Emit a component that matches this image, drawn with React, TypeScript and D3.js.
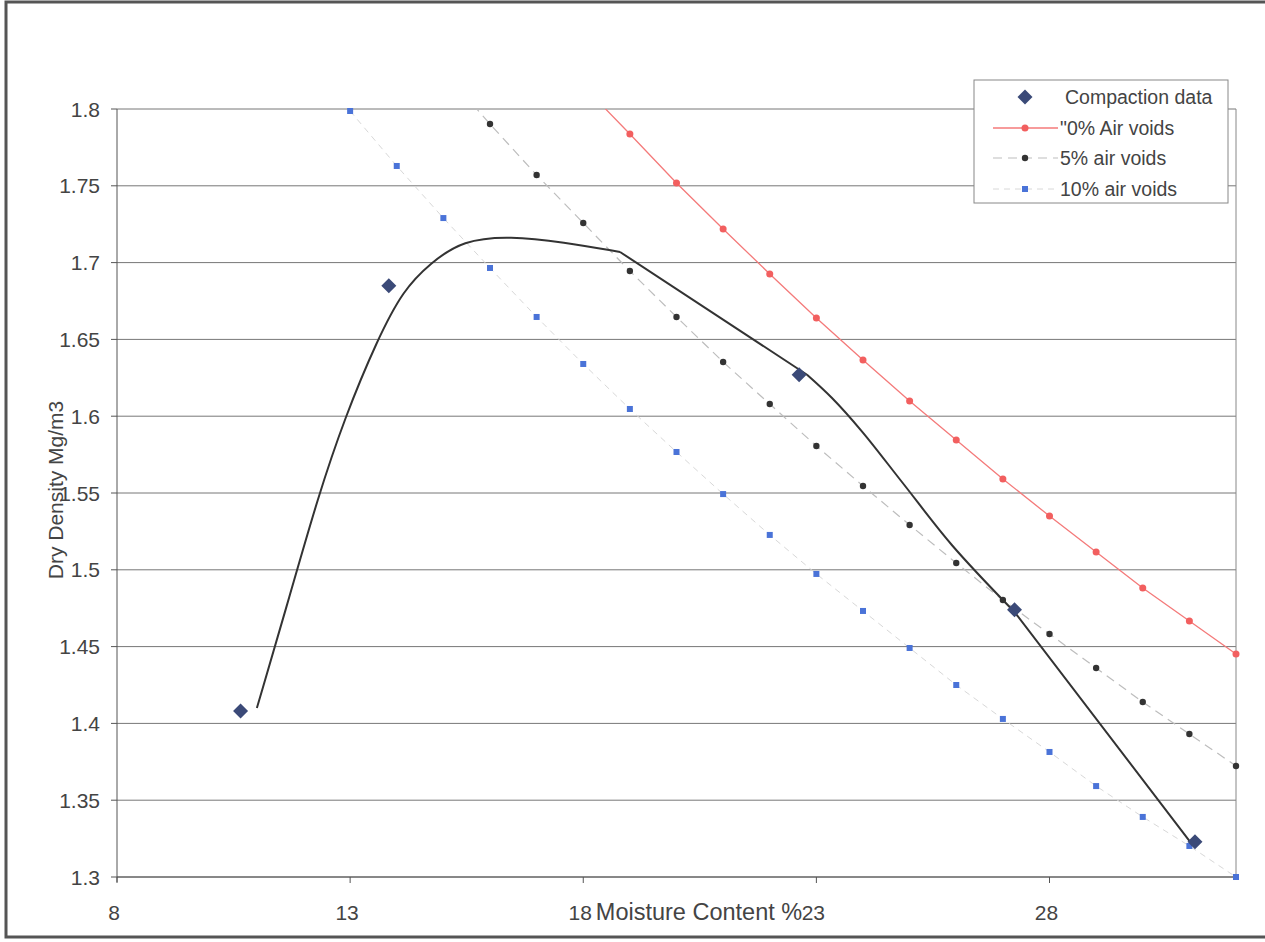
import React from "react";
import * as d3 from "d3";

const W = 1265;
const H = 942;

const xTicks = [8, 13, 18, 23, 28];
const yTicks = [1.3, 1.35, 1.4, 1.45, 1.5, 1.55, 1.6, 1.65, 1.7, 1.75, 1.8];

// Compaction data (moisture %, dry density)
const compMoisture = [10.65, 13.83, 22.63, 27.25, 31.12];
const compDensity = [1.408, 1.685, 1.627, 1.474, 1.323];

// Hand-fitted compaction curve, in four pieces (smooth, straight, smooth, straight)
const fitRiseMoisture = [11.0, 11.71, 12.31, 12.89, 13.58, 14.14, 14.72, 15.42, 16.43, 17.57, 18.79];
const fitRiseDensity = [1.41, 1.4836, 1.5474, 1.5995, 1.6496, 1.6822, 1.6997, 1.7147, 1.7173, 1.7134, 1.7069];
const fitMidMoisture = [18.79, 22.8];
const fitMidDensity = [1.7069, 1.627];
const fitBendMoisture = [22.8, 23.33, 23.98, 24.84, 25.91, 27.25];
const fitBendDensity = [1.627, 1.612, 1.59, 1.557, 1.516, 1.4725];
const fitTailMoisture = [27.25, 31.07];
const fitTailDensity = [1.4725, 1.3208];

// 0% air voids
const av0Moisture = [18, 19, 20, 21, 22, 23, 24, 25, 26, 27, 28, 29, 30, 31, 32];
const av0Density = [1.815, 1.7837, 1.7518, 1.7219, 1.6926, 1.6639, 1.6366, 1.6099, 1.5845, 1.5591, 1.535, 1.5116, 1.4882, 1.4667, 1.4452];

// 5% air voids
const av5Moisture = [15, 16, 17, 18, 19, 20, 21, 22, 23, 24, 25, 26, 27, 28, 29, 30, 31, 32];
const av5Density = [1.825, 1.7902, 1.757, 1.7258, 1.6945, 1.6646, 1.6353, 1.6079, 1.5806, 1.5546, 1.5292, 1.5044, 1.4803, 1.4582, 1.4361, 1.4139, 1.3931, 1.3723];

// 10% air voids
const av10Moisture = [13, 14, 15, 16, 17, 18, 19, 20, 21, 22, 23, 24, 25, 26, 27, 28, 29, 30, 31, 32];
const av10Density = [1.7987, 1.7629, 1.729, 1.6965, 1.6646, 1.634, 1.6047, 1.5767, 1.5493, 1.5227, 1.4973, 1.4732, 1.4491, 1.425, 1.4029, 1.3814, 1.3592, 1.3391, 1.3202, 1.3];

const legendLabels = ["Compaction data", "\"0% Air voids", "5% air voids", "10% air voids"];

const L = 117, R = 1236, T = 109, B = 877;
const x = d3.scaleLinear().domain([8, 32]).range([L, R]);
const y = d3.scaleLinear().domain([1.3, 1.8]).range([B, T]);

const FONT = "'Liberation Sans', Arial, sans-serif";

function zip(a: number[], b: number[]): [number, number][] {
  return a.map((v, i) => [v, b[i]]);
}

export default function App() {
  const line = d3.line<[number, number]>().x((d) => x(d[0])).y((d) => y(d[1]));
  const basis = d3
    .line<[number, number]>()
    .x((d) => x(d[0]))
    .y((d) => y(d[1]))
    .curve(d3.curveBasis);
  const smooth = d3
    .line<[number, number]>()
    .x((d) => x(d[0]))
    .y((d) => y(d[1]))
    .curve(d3.curveCatmullRom.alpha(0.5));

  const av0 = zip(av0Moisture, av0Density);
  const av5 = zip(av5Moisture, av5Density);
  const av10 = zip(av10Moisture, av10Density);
  const comp = zip(compMoisture, compDensity);
  const fitPath =
    (basis(zip(fitRiseMoisture, fitRiseDensity)) || "") +
    (line(zip(fitMidMoisture, fitMidDensity)) || "") +
    (smooth(zip(fitBendMoisture, fitBendDensity)) || "") +
    (line(zip(fitTailMoisture, fitTailDensity)) || "");
  const inRange = (d: [number, number]) => d[1] <= 1.8001 && d[1] >= 1.2999;

  const diamond = (cx: number, cy: number, s: number) =>
    `M${cx},${cy - s} L${cx + s},${cy} L${cx},${cy + s} L${cx - s},${cy} Z`;

  const legX = 974, legY = 80, legW = 254, legH = 123;
  const rowY = [97, 128, 158, 189];

  return (
    <svg width={W} height={H} style={{ position: "absolute", left: 0, top: 0, background: "#fff" }}>
      <defs>
        <clipPath id="plotClip">
          <rect x={L} y={T} width={R - L + 4} height={B - T} />
        </clipPath>
      </defs>
      {/* outer frame */}
      <rect x={6} y={2} width={W + 20} height={935} fill="#fff" stroke="#555" strokeWidth={3} />

      {/* gridlines */}
      {yTicks.map((t) => (
        <line key={"g" + t} x1={L} x2={R} y1={y(t)} y2={y(t)} stroke="#777" strokeWidth={1} />
      ))}
      {/* plot borders */}
      <line x1={R} x2={R} y1={T} y2={B} stroke="#888" strokeWidth={1} />
      <line x1={L} x2={L} y1={T} y2={B + 5} stroke="#555" strokeWidth={1} />
      <line x1={L} x2={R} y1={B} y2={B} stroke="#555" strokeWidth={1} />

      {/* y ticks */}
      {yTicks.map((t) => (
        <g key={"y" + t}>
          <line x1={L - 6} x2={L} y1={y(t)} y2={y(t)} stroke="#555" />
          <text x={L - 17} y={y(t)} dy="0.36em" textAnchor="end" fontFamily={FONT} fontSize={21} fill="#444">
            {String(t)}
          </text>
        </g>
      ))}
      {/* x ticks */}
      {xTicks.map((t) => (
        <g key={"x" + t}>
          <line x1={x(t)} x2={x(t)} y1={B} y2={B + 6} stroke="#555" />
          <text x={x(t) - 3} y={920} textAnchor="middle" fontFamily={FONT} fontSize={21} fill="#444">
            {String(t)}
          </text>
        </g>
      ))}

      {/* axis titles */}
      <text x={699} y={920} textAnchor="middle" fontFamily={FONT} fontSize={23.5} fill="#444">
        Moisture Content %
      </text>
      <text
        transform={`translate(63, 490) rotate(-90)`}
        textAnchor="middle"
        fontFamily={FONT}
        fontSize={21}
        fill="#444"
      >
        Dry Density Mg/m3
      </text>

      <g clipPath="url(#plotClip)">
        {/* 10% air voids */}
        <path d={line(av10) || ""} fill="none" stroke="#d8d8d8" strokeWidth={1} strokeDasharray="6,5" />
        {/* 5% air voids */}
        <path d={line(av5) || ""} fill="none" stroke="#bdbdbd" strokeWidth={1.2} strokeDasharray="9,6" />
        {/* 0% air voids */}
        <path d={line(av0) || ""} fill="none" stroke="#f47a7a" strokeWidth={1.3} />
      </g>
      {av10.filter(inRange).map((d, i) => (
        <rect key={"s" + i} x={x(d[0]) - 3} y={y(d[1]) - 3} width={6} height={6} fill="#4a73d8" />
      ))}
      {av5.filter(inRange).map((d, i) => (
        <circle key={"b" + i} cx={x(d[0])} cy={y(d[1])} r={3.2} fill="#333" />
      ))}
      {av0.filter(inRange).map((d, i) => (
        <circle key={"r" + i} cx={x(d[0])} cy={y(d[1])} r={3.5} fill="#f25f5f" />
      ))}

      {/* fitted curve */}
      <path d={fitPath} fill="none" stroke="#333" strokeWidth={2} strokeLinejoin="round" />

      {/* compaction data */}
      {comp.map((d, i) => (
        <path key={"c" + i} d={diamond(x(d[0]), y(d[1]), 7.5)} fill="#3b4a78" />
      ))}

      {/* legend */}
      <rect x={legX} y={legY} width={legW} height={legH} fill="#fff" stroke="#888" strokeWidth={1} />
      <path d={diamond(1025, rowY[0], 7.5)} fill="#3b4a78" />
      <line x1={993} x2={1058} y1={rowY[1]} y2={rowY[1]} stroke="#f47a7a" strokeWidth={1.3} />
      <circle cx={1025} cy={rowY[1]} r={3.5} fill="#f25f5f" />
      <line x1={993} x2={1058} y1={rowY[2]} y2={rowY[2]} stroke="#bdbdbd" strokeWidth={1.2} strokeDasharray="9,6" />
      <circle cx={1025} cy={rowY[2]} r={3.2} fill="#333" />
      <line x1={993} x2={1058} y1={rowY[3]} y2={rowY[3]} stroke="#d8d8d8" strokeWidth={1} strokeDasharray="6,5" />
      <rect x={1022} y={rowY[3] - 3} width={6} height={6} fill="#4a73d8" />
      {legendLabels.map((t, i) => (
        <text key={t} x={i === 0 ? 1065 : 1060} y={rowY[i]} dy="0.36em" fontFamily={FONT} fontSize={19.5} fill="#444">
          {t}
        </text>
      ))}
    </svg>
  );
}
